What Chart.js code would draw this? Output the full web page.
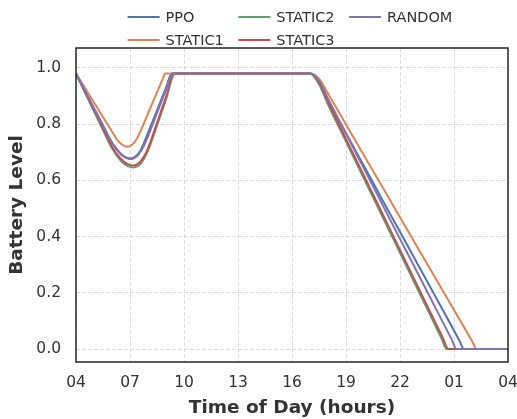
<!DOCTYPE html>
<html>
<head>
<meta charset="utf-8">
<script src="https://cdn.jsdelivr.net/npm/chart.js@4/dist/chart.umd.min.js"></script>
<style>
  html, body { margin: 0; padding: 0; background: #ffffff; }
  #wrap { position: relative; width: 517px; height: 419px; }
</style>
</head>
<body>
<div id="wrap"><canvas id="chart"></canvas></div>
<script>
// Hours are counted from 04:00; tick labels give the clock hour.
const timeTicks = [0, 3, 6, 9, 12, 15, 18, 21, 24];
const timeTickLabels = ['04', '07', '10', '13', '16', '19', '22', '01', '04'];
const levelTicks = [0, 0.2, 0.4, 0.6, 0.8, 1.0];

const seriesNames = ['PPO', 'STATIC1', 'STATIC2', 'STATIC3', 'RANDOM'];
const seriesColors = ['#4C72B0', '#DD8452', '#55A868', '#C44E52', '#8172B3'];

const ppoHours  = [0, 1, 1.5, 2, 2.5, 2.8, 3.05, 3.3, 3.55, 3.8, 4, 4.5, 5, 5.32, 13, 13.5, 14, 15, 16, 17, 18, 19, 20, 21, 21.3, 21.56, 24];
const ppoLevel  = [0.98, 0.857, 0.796, 0.735, 0.694, 0.681, 0.678, 0.685, 0.703, 0.737, 0.769, 0.849, 0.929, 0.98, 0.98, 0.952, 0.885, 0.768, 0.651, 0.533, 0.417, 0.30, 0.183, 0.066, 0.03, 0, 0];

const static1Hours = [0, 1, 2, 2.25, 2.5, 2.7, 2.85, 3.0, 3.25, 3.5, 4, 4.5, 4.8, 4.95, 13, 13.5, 14, 15, 16, 17, 18, 19, 20, 21, 22, 22.26, 24];
const static1Level = [0.98, 0.877, 0.774, 0.748, 0.730, 0.722, 0.72, 0.722, 0.736, 0.763, 0.838, 0.913, 0.958, 0.98, 0.98, 0.962, 0.909, 0.799, 0.689, 0.579, 0.469, 0.359, 0.249, 0.139, 0.029, 0, 0];

const static2Hours = [0, 1, 1.5, 2, 2.5, 2.85, 3.2, 3.5, 3.75, 4, 4.5, 5, 5.5, 13, 13.5, 14, 15, 16, 17, 18, 19, 20, 20.3, 20.59, 24];
const static2Level = [0.98, 0.846, 0.779, 0.714, 0.669, 0.652, 0.646, 0.654, 0.674, 0.706, 0.795, 0.888, 0.98, 0.98, 0.942, 0.87, 0.738, 0.606, 0.474, 0.342, 0.21, 0.078, 0.038, 0, 0];

const static3Hours = [0, 1, 1.5, 2, 2.5, 2.85, 3.2, 3.5, 3.75, 4, 4.5, 5, 5.45, 13, 13.5, 14, 15, 16, 17, 18, 19, 20, 20.4, 20.68, 24];
const static3Level = [0.98, 0.849, 0.784, 0.72, 0.676, 0.659, 0.653, 0.662, 0.682, 0.714, 0.804, 0.897, 0.98, 0.98, 0.948, 0.879, 0.747, 0.616, 0.484, 0.353, 0.221, 0.089, 0.037, 0, 0];

const randomHours = [0, 1, 1.5, 2, 2.5, 2.8, 3.05, 3.3, 3.5, 3.75, 4, 4.5, 5, 5.35, 13, 13.5, 14, 15, 16, 17, 18, 19, 20, 20.85, 21.15, 24];
const randomLevel = [0.98, 0.856, 0.794, 0.733, 0.692, 0.679, 0.676, 0.682, 0.694, 0.720, 0.757, 0.840, 0.922, 0.98, 0.98, 0.953, 0.891, 0.766, 0.642, 0.517, 0.392, 0.268, 0.143, 0.037, 0, 0];

const seriesHours = [ppoHours, static1Hours, static2Hours, static3Hours, randomHours];
const seriesLevels = [ppoLevel, static1Level, static2Level, static3Level, randomLevel];

const TEXT = '#333333';
const FONT = 'DejaVu Sans';

const datasets = seriesNames.map((name, i) => ({
  label: name,
  data: seriesHours[i].map((h, j) => ({ x: h, y: seriesLevels[i][j] })),
  borderColor: seriesColors[i],
  backgroundColor: seriesColors[i],
  borderWidth: 2,
  pointRadius: 0,
  fill: false,
  cubicInterpolationMode: 'monotone',
  // later series are painted over earlier ones
  order: seriesNames.length - i
}));

// Two-row, three-column legend (filled column by column) and the axes frame.
const frameAndLegend = {
  id: 'frameAndLegend',
  afterDraw(chart) {
    const ctx = chart.ctx;
    const a = chart.chartArea;
    ctx.save();
    ctx.strokeStyle = '#262626';
    ctx.lineWidth = 1.5;
    ctx.strokeRect(a.left, a.top, a.right - a.left, a.bottom - a.top);

    const rows = 2, handle = 32, gap = 6, colSpace = 14.5;
    const rowY = [17, 40];
    ctx.font = '14.5px "' + FONT + '"';
    const items = chart.data.datasets;
    const cols = Math.ceil(items.length / rows);
    const colW = [];
    for (let c = 0; c < cols; c++) {
      let w = 0;
      for (let r = 0; r < rows; r++) {
        const it = items[c * rows + r];
        if (it) w = Math.max(w, ctx.measureText(it.label).width);
      }
      colW.push(handle + gap + w);
    }
    const total = colW.reduce((s, w) => s + w, 0) + colSpace * (cols - 1);
    let x = (a.left + a.right) / 2 - total / 2 - 2;
    for (let c = 0; c < cols; c++) {
      for (let r = 0; r < rows; r++) {
        const it = items[c * rows + r];
        if (!it) continue;
        const y = rowY[r];
        ctx.strokeStyle = it.borderColor;
        ctx.lineWidth = 2;
        ctx.beginPath();
        ctx.moveTo(x, y);
        ctx.lineTo(x + handle, y);
        ctx.stroke();
        ctx.fillStyle = TEXT;
        ctx.textBaseline = 'middle';
        ctx.textAlign = 'left';
        ctx.fillText(it.label, x + handle + gap, y + 1);
      }
      x += colW[c] + colSpace;
    }
    ctx.restore();
  }
};

new Chart(document.getElementById('chart'), {
  type: 'line',
  data: { datasets },
  plugins: [frameAndLegend],
  options: {
    responsive: true,
    maintainAspectRatio: false,
    animation: false,
    layout: { padding: { top: 48, right: 9, left: 0, bottom: 0 } },
    plugins: { legend: { display: false }, tooltip: { enabled: false } },
    scales: {
      x: {
        type: 'linear',
        min: 0,
        max: 24,
        afterBuildTicks(scale) { scale.ticks = timeTicks.map(v => ({ value: v })); },
        afterFit(scale) { scale.height = 57; scale.paddingLeft = 0; scale.paddingRight = 0; },
        ticks: {
          autoSkip: false,
          maxRotation: 0,
          padding: 12,
          color: TEXT,
          font: { family: FONT, size: 15.5 },
          callback: (v, i) => timeTickLabels[i]
        },
        grid: { color: '#dcdcdc', lineWidth: 1, drawTicks: false },
        border: { display: false, dash: [4, 2] },
        title: {
          display: true,
          text: 'Time of Day (hours)',
          color: TEXT,
          font: { family: FONT, size: 18.5, weight: 'bold' },
          padding: { top: 2, bottom: 0 }
        }
      },
      y: {
        type: 'linear',
        min: -0.046,
        max: 1.071,
        afterBuildTicks(scale) { scale.ticks = levelTicks.map(v => ({ value: v })); },
        afterFit(scale) { scale.width = 76; scale.paddingTop = 0; scale.paddingBottom = 0; },
        ticks: {
          padding: 15,
          color: TEXT,
          font: { family: FONT, size: 15.5 },
          callback: v => Number(v).toFixed(1)
        },
        grid: { color: '#dcdcdc', lineWidth: 1, drawTicks: false },
        border: { display: false, dash: [4, 2] },
        title: {
          display: true,
          text: 'Battery Level',
          color: TEXT,
          font: { family: FONT, size: 18.5, weight: 'bold' },
          padding: { top: 6, bottom: 0 }
        }
      }
    }
  }
});
</script>
</body>
</html>
